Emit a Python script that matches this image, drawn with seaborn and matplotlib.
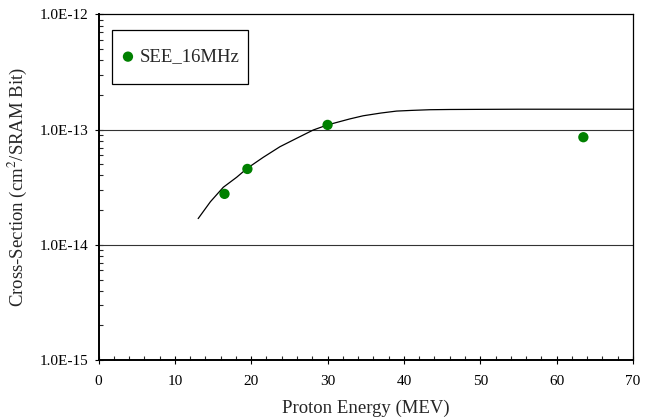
import matplotlib
matplotlib.use("Agg")
import matplotlib.pyplot as plt
from matplotlib.ticker import FixedLocator, LogLocator, NullFormatter, MultipleLocator
from matplotlib.patches import Rectangle
import seaborn as sns
import pandas as pd

# measured data
energy = [16.5, 19.5, 30.0, 63.5]
xsec = [2.77e-14, 4.56e-14, 1.10e-13, 8.6e-14]

# fitted curve
fit_energy = [13.05, 14.66, 16.34, 18.09, 19.48, 21.57, 23.76, 25.94, 28.12, 30.0,
              32.92, 34.66, 37.0, 39.03, 41.0, 43.4, 46.0, 49.1, 55.0, 60.0, 70.0]
fit_xsec = [1.69e-14, 2.37e-14, 3.16e-14, 3.86e-14, 4.62e-14, 5.75e-14, 7.11e-14,
            8.41e-14, 9.93e-14, 1.10e-13, 1.24e-13, 1.32e-13, 1.395e-13, 1.45e-13,
            1.47e-13, 1.49e-13, 1.497e-13, 1.50e-13, 1.505e-13, 1.505e-13, 1.505e-13]

y_ticks = [1e-15, 1e-14, 1e-13, 1e-12]
y_tick_labels = ["1.0E-15", "1.0E-14", "1.0E-13", "1.0E-12"]
series_name = "SEE_16MHz"

sns.set_theme(style="white")
plt.rcParams["font.family"] = ["Liberation Serif", "DejaVu Serif"]
plt.rcParams["mathtext.fontset"] = "stix"

fig = plt.figure(figsize=(6.55, 4.19), dpi=100)
ax = fig.add_axes([0.1504, 0.1408, 0.8160, 0.8246])

df = pd.DataFrame({"E": energy, "S": xsec, "name": series_name})
fit = pd.DataFrame({"E": fit_energy, "S": fit_xsec})

sns.lineplot(data=fit, x="E", y="S", ax=ax, color="black", linewidth=0.9, legend=False)
sns.scatterplot(data=df, x="E", y="S", ax=ax, color="#008000", s=55, edgecolor="none",
                label=series_name, zorder=5)

ax.set_yscale("log")
ax.set_xlim(0, 70)
ax.set_ylim(1e-15, 1e-12)

for yv in [1e-14, 1e-13]:
    ax.axhline(yv, color="#333333", linewidth=0.8, zorder=1)

ax.xaxis.set_major_locator(MultipleLocator(10))
ax.xaxis.set_minor_locator(MultipleLocator(2))
ax.yaxis.set_major_locator(FixedLocator(y_ticks))
ax.set_yticklabels(y_tick_labels)
ax.yaxis.set_minor_locator(LogLocator(base=10, subs=range(2, 10)))
ax.yaxis.set_minor_formatter(NullFormatter())

ax.tick_params(axis="both", which="major", direction="inout", length=6, width=0.8,
               labelsize=11, colors="black", left=True, bottom=True, pad=4)
ax.tick_params(axis="both", which="minor", direction="in", length=3, width=0.8,
               left=True, bottom=True)
ax.tick_params(axis="x", which="major", pad=8)

for s in ax.spines.values():
    s.set_color("black")
    s.set_linewidth(0.9)
ax.spines["bottom"].set_linewidth(1.4)
ax.spines["left"].set_linewidth(1.4)

ax.set_xlabel("Proton Energy (MEV)", fontsize=13.5, labelpad=8)
ax.set_ylabel("Cross-Section (cm$^2$/SRAM Bit)", fontsize=13.5, labelpad=8)

# legend box frame
box = Rectangle((0.0247, 0.799), 0.255, 0.156, transform=ax.transAxes,
                facecolor="white", edgecolor="black", linewidth=0.9, zorder=6)
ax.add_patch(box)
leg = ax.legend(loc="center", bbox_to_anchor=(0.1538, 0.877), borderaxespad=0,
                fontsize=13.5, frameon=False, handletextpad=0.3, borderpad=0,
                handlelength=0.7, markerscale=1.0)
leg.set_zorder(7)

fig.savefig("out.png", dpi=100)
